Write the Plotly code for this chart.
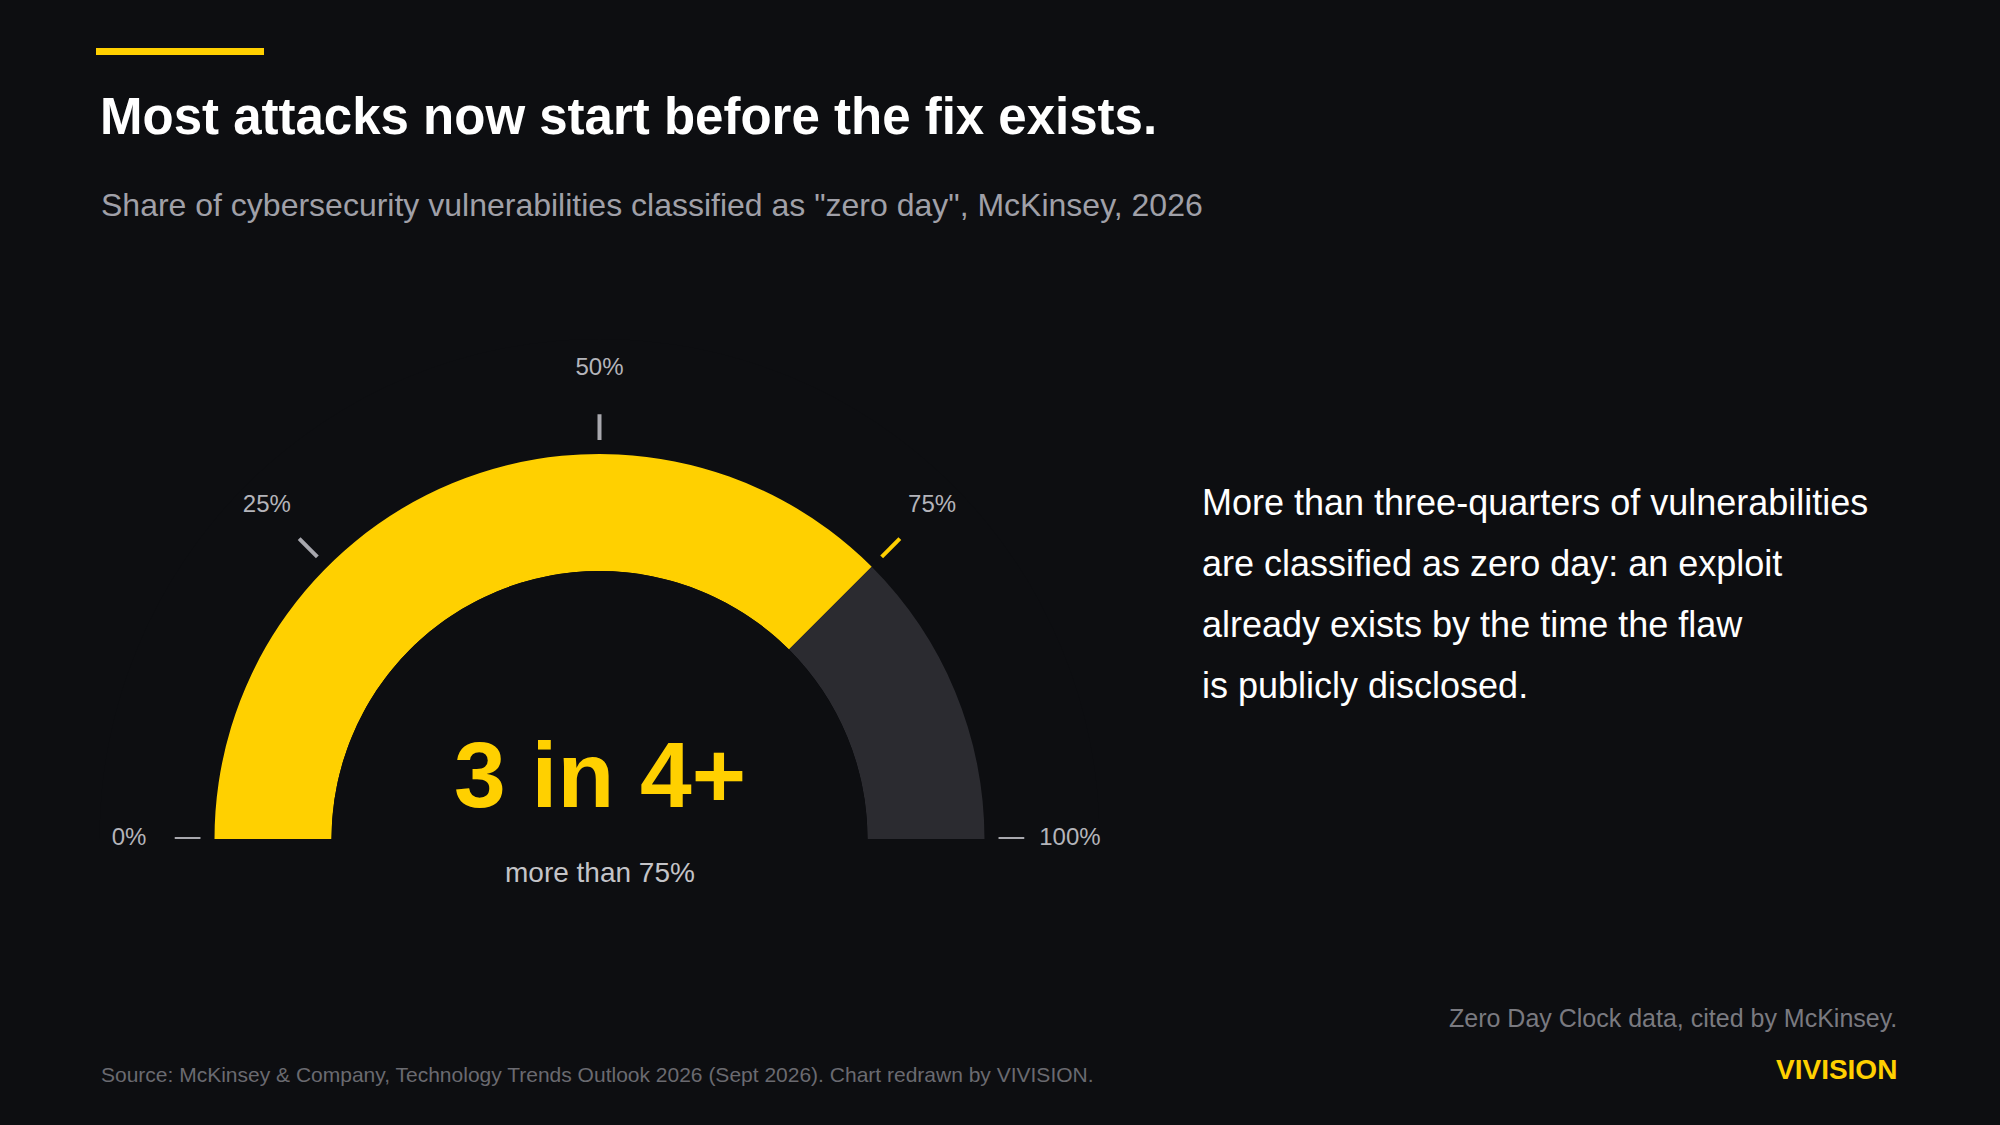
import plotly.graph_objects as go

share_pct = 75
tick_pcts = [0, 25, 50, 75, 100]
tick_labels = ["0%", "25%", "50%", "75%", "100%"]
headline = "3 in 4+"
sub_value = "more than 75%"
body_lines = ["More than three-quarters of vulnerabilities",
              "are classified as zero day: an exploit",
              "already exists by the time the flaw",
              "is publicly disclosed."]

BG = "#0d0e11"; YEL = "#FFD000"; GREY = "#2b2b30"
FONT = "Liberation Sans, Arial, sans-serif"

fig = go.Figure()
deg = 180 / 100
fig.add_trace(go.Barpolar(r=[1], base=[0], theta=[share_pct*deg/2], width=[share_pct*deg],
                          marker=dict(color=YEL, line=dict(width=0)), hoverinfo="skip"))
fig.add_trace(go.Barpolar(r=[1], base=[0], theta=[(100+share_pct)*deg/2], width=[(100-share_pct)*deg],
                          marker=dict(color=GREY, line=dict(width=0)), hoverinfo="skip"))
for p in tick_pcts:
    col = YEL if p == share_pct else "#a8a8ae"
    fig.add_trace(go.Scatterpolar(r=[1.12, 1.34], theta=[p*deg, p*deg], mode="lines",
                                  line=dict(color=col, width=4), hoverinfo="skip", cliponaxis=False))
fig.add_trace(go.Scatterpolar(r=[1.73]*len(tick_pcts), theta=[p*deg for p in tick_pcts],
                              mode="text", text=tick_labels, cliponaxis=False,
                              textfont=dict(color="#b4b4ba", size=24, family=FONT), hoverinfo="skip"))

fig.update_layout(
    width=2000, height=1125, paper_bgcolor=BG, plot_bgcolor=BG, showlegend=False,
    margin=dict(l=0, r=0, t=0, b=0), font=dict(family=FONT),
    polar=dict(domain=dict(x=[0.04975, 0.54975], y=[0.2542, 0.6987]), sector=[0, 180], hole=0.536,
               bgcolor=BG, bargap=0,
               radialaxis=dict(range=[0, 1.983], visible=False),
               angularaxis=dict(rotation=180, direction="clockwise", visible=False)))

fig.add_shape(type="rect", xref="paper", yref="paper", x0=96/2000, x1=264/2000,
              y0=1-55/1125, y1=1-48/1125, fillcolor=YEL, line_width=0)

def ann(text, x, y, size, color, anchor="left", bold=False):
    fig.add_annotation(text=f"<b>{text}</b>" if bold else text, x=x/2000, y=1-y/1125,
                       xref="paper", yref="paper", xanchor=anchor, yanchor="middle",
                       showarrow=False, font=dict(size=size, color=color, family=FONT))

ann("Most attacks now start before the fix exists.", 98, 116, 51, "#ffffff", bold=True)
ann('Share of cybersecurity vulnerabilities classified as "zero day", McKinsey, 2026', 99, 205, 32, "#a0a0a8")
ann(headline, 599.5, 775, 93, YEL, anchor="center", bold=True)
ann(sub_value, 599.5, 872, 28, "#c4c4c8", anchor="center")
for i, line in enumerate(body_lines):
    ann(line, 1200, 502 + i*61.3, 36, "#ffffff")
ann("Zero Day Clock data, cited by McKinsey.", 1899, 1018, 25, "#7a7a80", anchor="right")
ann("VIVISION", 1899, 1069, 28, YEL, anchor="right", bold=True)
ann("Source: McKinsey &amp; Company, Technology Trends Outlook 2026 (Sept 2026). Chart redrawn by VIVISION.",
    99, 1074, 21, "#6a6a70")

fig.write_html("out.html", config={"displayModeBar": False},
               post_script="document.body.style.margin='0';document.body.style.background='#0d0e11';")
